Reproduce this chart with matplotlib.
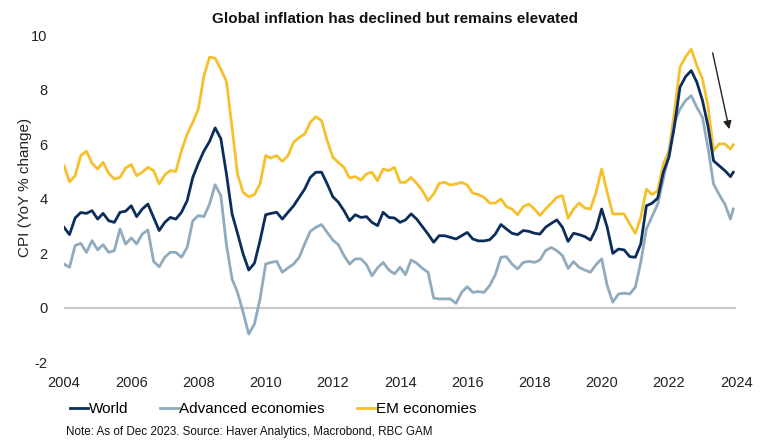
import matplotlib
matplotlib.use("Agg")
import matplotlib.pyplot as plt
import matplotlib.dates as mdates
import pandas as pd

plt.rcParams['font.family'] = ['Liberation Sans', 'DejaVu Sans']
plt.rcParams['axes.unicode_minus'] = False

# bimonthly readings, Jan 2004 .. Nov 2023, then Dec 2023
dates = list(pd.date_range('2004-01-01', '2023-11-01', freq='2MS')) + [pd.Timestamp('2023-12-01')]

world = [
    2.95, 2.68, 3.29, 3.49, 3.46, 3.56,
    3.25, 3.46, 3.19, 3.13, 3.50, 3.54,
    3.74, 3.34, 3.62, 3.80, 3.31, 2.83,
    3.13, 3.31, 3.25, 3.50, 3.93, 4.78,
    5.30, 5.75, 6.10, 6.60, 6.20, 4.90,
    3.44, 2.73, 1.97, 1.38, 1.63, 2.46,
    3.41, 3.46, 3.50, 3.25, 3.50, 3.74,
    4.05, 4.35, 4.78, 4.97, 4.97, 4.54,
    4.07, 3.87, 3.56, 3.19, 3.41, 3.31,
    3.34, 3.13, 3.01, 3.50, 3.31, 3.29,
    3.13, 3.22, 3.44, 3.25, 2.97, 2.70,
    2.40, 2.64, 2.64, 2.58, 2.52, 2.64,
    2.76, 2.52, 2.45, 2.45, 2.49, 2.70,
    3.05, 2.89, 2.73, 2.68, 2.83, 2.80,
    2.73, 2.70, 2.95, 3.09, 3.22, 2.95,
    2.43, 2.73, 2.68, 2.61, 2.48, 2.89,
    3.62, 2.95, 1.99, 2.15, 2.12, 1.87,
    1.85, 2.34, 3.74, 3.83, 4.02, 4.97,
    5.52, 6.64, 8.09, 8.48, 8.70, 8.27,
    7.60, 6.68, 5.39, 5.21, 5.03, 4.81,
    4.97,
]

advanced = [
    1.60, 1.48, 2.28, 2.36, 2.03, 2.46,
    2.12, 2.31, 2.03, 2.09, 2.89, 2.33,
    2.56, 2.34, 2.70, 2.85, 1.70, 1.50,
    1.85, 2.03, 2.03, 1.85, 2.21, 3.19,
    3.38, 3.34, 3.80, 4.51, 4.11, 2.30,
    1.05, 0.56, -0.17, -0.97, -0.60, 0.32,
    1.60, 1.66, 1.70, 1.30, 1.46, 1.60,
    1.85, 2.34, 2.80, 2.95, 3.05, 2.76,
    2.48, 2.31, 1.91, 1.60, 1.79, 1.79,
    1.58, 1.17, 1.46, 1.66, 1.38, 1.24,
    1.48, 1.21, 1.75, 1.63, 1.44, 1.30,
    0.35, 0.32, 0.32, 0.32, 0.16, 0.56,
    0.77, 0.56, 0.59, 0.56, 0.81, 1.21,
    1.85, 1.87, 1.60, 1.42, 1.66, 1.70,
    1.66, 1.75, 2.09, 2.21, 2.09, 1.91,
    1.44, 1.69, 1.48, 1.38, 1.30, 1.58,
    1.79, 0.81, 0.20, 0.50, 0.53, 0.50,
    0.75, 1.66, 2.89, 3.34, 3.80, 4.72,
    5.64, 6.80, 7.29, 7.60, 7.78, 7.35,
    6.98, 5.88, 4.54, 4.15, 3.80, 3.25,
    3.62,
]

em = [
    5.21, 4.62, 4.84, 5.58, 5.74, 5.30,
    5.09, 5.33, 4.93, 4.72, 4.78, 5.13,
    5.25, 4.84, 4.97, 5.15, 5.03, 4.54,
    4.88, 5.03, 5.00, 5.76, 6.37, 6.80,
    7.30, 8.50, 9.20, 9.15, 8.75, 8.30,
    6.60, 4.90, 4.23, 4.07, 4.15, 4.54,
    5.58, 5.49, 5.58, 5.37, 5.58, 6.07,
    6.25, 6.37, 6.80, 7.01, 6.86, 6.13,
    5.52, 5.33, 5.15, 4.76, 4.81, 4.68,
    4.91, 4.97, 4.66, 5.09, 5.03, 5.15,
    4.60, 4.60, 4.78, 4.56, 4.29, 3.93,
    4.17, 4.56, 4.60, 4.50, 4.54, 4.60,
    4.50, 4.20, 4.15, 4.05, 3.84, 3.84,
    3.99, 3.71, 3.62, 3.41, 3.71, 3.80,
    3.62, 3.38, 3.62, 3.83, 4.05, 4.11,
    3.28, 3.62, 3.84, 3.66, 3.62, 4.23,
    5.09, 4.23, 3.44, 3.44, 3.44, 3.07,
    2.73, 3.31, 4.35, 4.15, 4.29, 5.27,
    5.76, 7.17, 8.82, 9.21, 9.49, 8.88,
    8.39, 7.41, 5.76, 6.01, 6.01, 5.82,
    5.98,
]

year_ticks = [2004, 2006, 2008, 2010, 2012, 2014, 2016, 2018, 2020, 2022, 2024]
y_ticks = [-2, 0, 2, 4, 6, 8, 10]

fig = plt.figure(figsize=(7.69, 4.40), dpi=100)
ax = fig.add_axes([0.0832, 0.177, 0.874, 0.743])

ax.axhline(0, color='#c8c8c8', lw=1.6, zorder=1)
ax.plot(dates, world, color='#0c2d5c', lw=2.0, label='World', zorder=4)
ax.plot(dates, advanced, color='#8fabbd', lw=2.0, label='Advanced economies', zorder=3)
ax.plot(dates, em, color='#f6c02c', lw=2.0, label='EM economies', zorder=2)

# arrow pointing at the recent decline
ax.annotate('', xy=(pd.Timestamp('2023-10-25'), 6.45), xytext=(pd.Timestamp('2023-04-15'), 9.45),
            arrowprops=dict(arrowstyle='-|>', color='#222222', lw=1.0, mutation_scale=12))

ax.set_xlim(pd.Timestamp('2004-01-01'), pd.Timestamp('2024-01-01'))
ax.set_ylim(-2, 10)
ax.set_xticks([pd.Timestamp(f'{y}-01-01') for y in year_ticks])
ax.xaxis.set_major_formatter(mdates.DateFormatter('%Y'))
ax.set_yticks(y_ticks)
ax.tick_params(length=0, labelsize=10.5, colors='#222222', pad=10)
ax.tick_params(axis='y', pad=12)
for s in ax.spines.values():
    s.set_visible(False)

fig.text(25 / 769, 1 - 187 / 440, 'CPI (YoY % change)', rotation=90, ha='center', va='center',
         fontsize=11, color='#222222')
fig.text(395 / 769, 1 - 19 / 440, 'Global inflation has declined but remains elevated',
         ha='center', va='center', fontsize=11, fontweight='bold', color='#111111')

fig.legend(loc='center left', bbox_to_anchor=(62 / 769, 1 - 409 / 440), ncol=3, frameon=False,
           fontsize=11, handlelength=1.2, handletextpad=0.05, columnspacing=2.1, borderpad=0)
fig.text(66 / 769, 1 - 432 / 440, 'Note: As of Dec 2023. Source: Haver Analytics, Macrobond, RBC GAM',
         ha='left', va='center', fontsize=8.4, color='#111111')

fig.savefig('out.png', dpi=100)
